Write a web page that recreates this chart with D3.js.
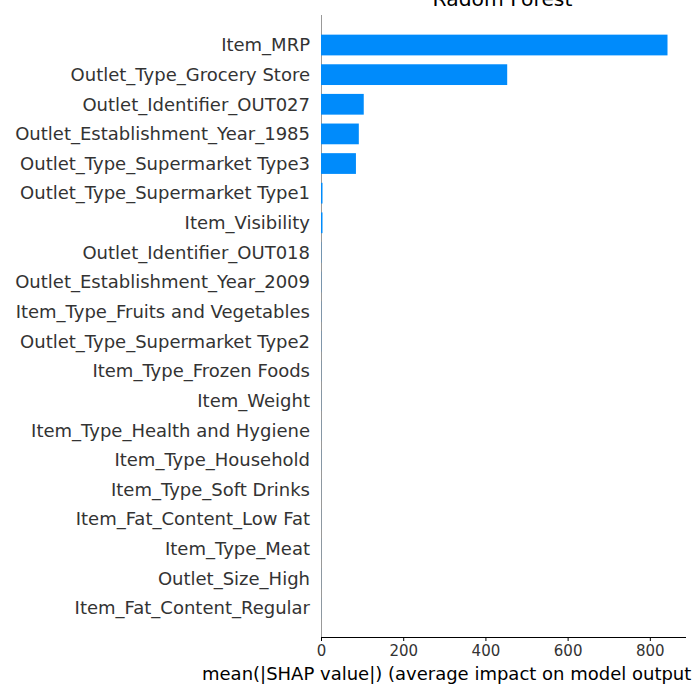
<!DOCTYPE html>
<html>
<head>
<meta charset="utf-8">
<script src="https://cdn.jsdelivr.net/npm/d3@7"></script>
<style>
  body { margin: 0; background: #fff; }
  svg { font-family: "DejaVu Sans", sans-serif; }
</style>
</head>
<body>
<div id="chart"></div>
<script>
// feature names, top to bottom
var features = [
  "Item_MRP", "Outlet_Type_Grocery Store", "Outlet_Identifier_OUT027",
  "Outlet_Establishment_Year_1985", "Outlet_Type_Supermarket Type3",
  "Outlet_Type_Supermarket Type1", "Item_Visibility", "Outlet_Identifier_OUT018",
  "Outlet_Establishment_Year_2009", "Item_Type_Fruits and Vegetables",
  "Outlet_Type_Supermarket Type2", "Item_Type_Frozen Foods", "Item_Weight",
  "Item_Type_Health and Hygiene", "Item_Type_Household", "Item_Type_Soft Drinks",
  "Item_Fat_Content_Low Fat", "Item_Type_Meat", "Outlet_Size_High",
  "Item_Fat_Content_Regular"
];
// mean |SHAP| values
var shapValues = [843, 453, 104, 92, 85, 2.5, 2.2, 0.6, 0.5, 0.4, 0.4, 0.3, 0.3, 0.3, 0.3, 0.2, 0.2, 0.2, 0.2, 0.2];
var xTicks = [0, 200, 400, 600, 800];

var width = 700, height = 700;
var mLeft = 321, mRight = 686, mTop = 15, mBottom = 637;

var svg = d3.select("#chart")
  .append("svg")
  .attr("width", width)
  .attr("height", height);

// the original figure is cut a little before the right edge
svg.append("clipPath")
  .attr("id", "figclip")
  .append("rect")
  .attr("x", 0).attr("y", 0)
  .attr("width", 692).attr("height", height);

var x = d3.scaleLinear().domain([0, 888]).range([mLeft, mRight]);
var y = d3.scaleBand().domain(features).range([30.2, 622.8]).paddingInner(0.3).paddingOuter(0.15);

// left spine
svg.append("line")
  .attr("x1", mLeft + 0.5).attr("x2", mLeft + 0.5)
  .attr("y1", mTop).attr("y2", mBottom)
  .attr("stroke", "#999").attr("stroke-width", 1);

// bars
svg.append("g")
  .selectAll("rect")
  .data(features)
  .enter()
  .append("rect")
  .attr("x", x(0))
  .attr("y", function(d) { return y(d); })
  .attr("width", function(d, i) { return Math.max(x(shapValues[i]) - x(0), shapValues[i] > 1 ? 1.5 : 0); })
  .attr("height", y.bandwidth())
  .attr("fill", "#008bfb");

// feature labels
svg.append("g")
  .selectAll("text")
  .data(features)
  .enter()
  .append("text")
  .attr("x", mLeft - 11)
  .attr("y", function(d) { return y(d) + y.bandwidth() / 2; })
  .attr("dy", "0.35em")
  .attr("text-anchor", "end")
  .attr("font-size", "18px")
  .attr("fill", "#333")
  .text(function(d) { return d; });

// x axis
var xAxis = d3.axisBottom(x).tickValues(xTicks).tickSize(4).tickPadding(4);
var gx = svg.append("g")
  .attr("transform", "translate(0," + mBottom + ")")
  .call(xAxis);
gx.select(".domain").attr("d", "M" + mLeft + ",0.5H" + mRight).attr("stroke", "#000");
gx.selectAll(".tick line").attr("stroke", "#000");
gx.selectAll(".tick text")
  .attr("font-size", "15px")
  .attr("font-family", "DejaVu Sans")
  .attr("fill", "#333");

svg.append("text")
  .attr("x", 202)
  .attr("y", 680)
  .attr("text-anchor", "start")
  .attr("font-size", "18px")
  .attr("fill", "#000")
  .attr("clip-path", "url(#figclip)")
  .text("mean(|SHAP value|) (average impact on model output)");

svg.append("text")
  .attr("x", 502.5)
  .attr("y", 6)
  .attr("text-anchor", "middle")
  .attr("font-size", "20.3px")
  .attr("fill", "#000")
  .text("Radom Forest");
</script>
</body>
</html>
